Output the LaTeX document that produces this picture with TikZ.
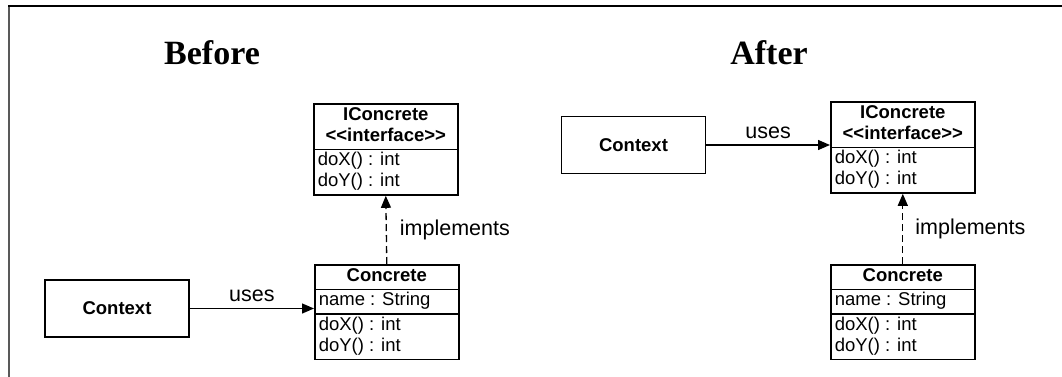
\documentclass[tikz,border=0pt]{standalone}
\usepackage{fontspec}
\setmainfont{Liberation Sans}[Ligatures=TeXOff]
\newfontfamily\titlefont{Liberation Serif}
\usepackage{tikz}
\usetikzlibrary{shapes.multipart,arrows.meta}

\newcommand{\ifacetitle}{\begin{tabular}{@{}c@{}}\bfseries IConcrete\\\bfseries <\kern0pt<interface>\kern0pt>\end{tabular}}
\newcommand{\methodrows}{\begin{tabular}{@{}l@{}}doX() : int\\doY() : int\end{tabular}}

\begin{document}
\begin{tikzpicture}[x=1pt,y=-1pt,
		umlbox/.style={draw, line width=1.6pt, rectangle split, rectangle split parts=#1,
			rectangle split part align={center,left,left}, minimum width=144pt,
			inner xsep=4pt, inner ysep=1pt, anchor=north west,
			font=\fontsize{18.5}{21}\selectfont},
		ctxbox/.style={draw, line width=1.6pt, minimum width=144pt, minimum height=57pt,
			font=\fontsize{18.5}{21}\selectfont\bfseries},
		heading/.style={font=\titlefont\fontsize{34}{40}\selectfont\bfseries},
		lbl/.style={inner sep=0pt, font=\fontsize{21.5}{25}\selectfont},
		link/.style={line width=1.3pt, -{Triangle[length=12pt,width=10pt]}},
		realize/.style={link, dash pattern=on 7pt off 4pt}]
	\useasboundingbox (0,0) rectangle (1062,377);
	\draw[line width=2pt, gray!70!black] (9,377) -- (9,6);
	\draw[line width=2pt] (8,6) -- (1062,6);
	
	% before
	\node[heading] (before) at (212,53) {Before};
	\node[umlbox=2] (iconL) at (313,103) {\ifacetitle\nodepart{two}\methodrows};
	\node[umlbox=3] (concL) at (314,264) {\strut\bfseries Concrete\nodepart{two}\strut name : String\nodepart{three}\methodrows};
	\node[ctxbox] (ctxL) at (117,308.5) {Context};
	\draw[link] (ctxL.east) -- node[lbl, above=6pt] (usesL) {uses} (ctxL.east -| concL.west);
	\draw[realize] (concL.north) -- node[lbl, right=13pt] (implL) {implements} (iconL.south);
	
	% after
	\node[heading] (after) at (769,53) {After};
	\node[umlbox=2] (iconR) at (830,101) {\ifacetitle\nodepart{two}\methodrows};
	\node[umlbox=3] (concR) at (830,264) {\strut\bfseries Concrete\nodepart{two}\strut name : String\nodepart{three}\methodrows};
	\node[ctxbox] (ctxR) at (633.5,145) {Context};
	\draw[link] (ctxR.east) -- node[lbl, above=6pt] (usesR) {uses} (ctxR.east -| iconR.west);
	\draw[realize] (concR.north) -- node[lbl, right=12pt] (implR) {implements} (iconR.south);
\end{tikzpicture}
\end{document}
